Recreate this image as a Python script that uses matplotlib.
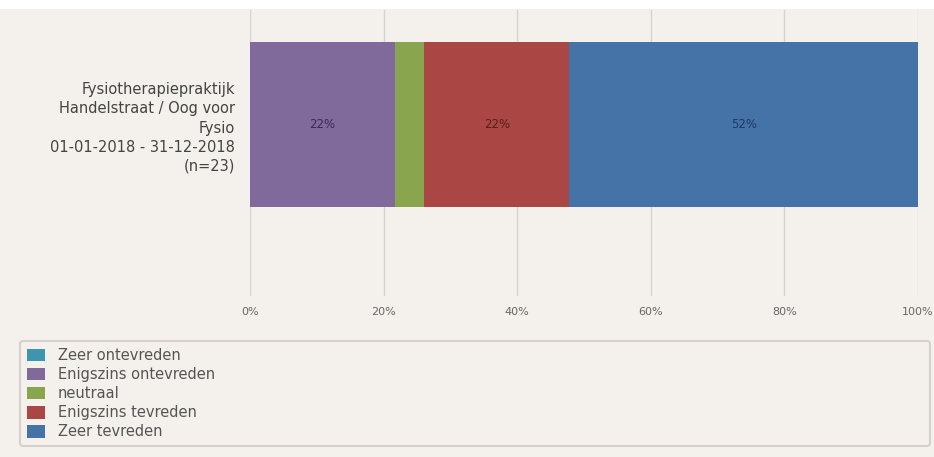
import matplotlib.pyplot as plt
from matplotlib.patches import Rectangle

# Gegevens (aantallen per antwoordcategorie, n=23)
categorie = "Fysiotherapiepraktijk\nHandelstraat / Oog voor\nFysio\n01-01-2018 - 31-12-2018\n(n=23)"
reeksen = ["Zeer ontevreden", "Enigszins ontevreden", "neutraal",
           "Enigszins tevreden", "Zeer tevreden"]
aantallen = [0, 5, 1, 5, 12]
labels = ["", "22%", "", "22%", "52%"]
kleuren = ["#3D96AE", "#80699B", "#89A54E", "#AA4643", "#4572A7"]
label_kleuren = ["#1f4d5a", "#3b2a55", "#3d4d20", "#5a1e1c", "#1f3a66"]
ticks = [0, 20, 40, 60, 80, 100]
tick_labels = ["0%", "20%", "40%", "60%", "80%", "100%"]

bg = "#f4f0ec"
fig = plt.figure(figsize=(9.34, 4.57), dpi=100, facecolor=bg)
# witte strook bovenaan
fig.patches.append(Rectangle((0, 1 - 9 / 457), 1, 9 / 457, transform=fig.transFigure,
                             facecolor="white", edgecolor="none", zorder=0))

ax = fig.add_axes([250 / 934, 1 - 296 / 457, 668 / 934, 286 / 457])
ax.set_facecolor(bg)

totaal = sum(aantallen)
links = 0
for naam, n, lab, kl, lk in zip(reeksen, aantallen, labels, kleuren, label_kleuren):
    pct = n / totaal * 100
    ax.barh(0, pct, left=links, height=0.577, color=kl, label=naam, zorder=3)
    if lab:
        ax.text(links + pct / 2, 0, lab, ha="center", va="center",
                fontsize=8.5, color=lk, zorder=4)
    links += pct

ax.set_xlim(0, 100)
ax.set_ylim(-0.6, 0.4)
ax.set_xticks(ticks)
ax.set_xticklabels(tick_labels, fontsize=8, color="#666666")
ax.set_yticks([0])
ax.set_yticklabels([categorie], fontsize=10.5, color="#444444", ha="right",
                   linespacing=1.35)
ax.tick_params(axis="x", length=0, pad=8)
ax.tick_params(axis="y", length=0, pad=11)
ax.grid(axis="x", color="#d6d3d0", lw=1, zorder=0)
for s in ax.spines.values():
    s.set_visible(False)

handles, lbls = ax.get_legend_handles_labels()
leg = fig.legend(handles, lbls, loc="upper left", mode="expand",
                 bbox_to_anchor=(20 / 934, 1 - 346 / 457, 910 / 934, 0.01),
                 borderaxespad=0, ncol=1, fontsize=10.5, labelspacing=0.28,
                 handlelength=1.25, handleheight=0.95, handletextpad=0.9,
                 borderpad=0.45, frameon=True, fancybox=True,
                 facecolor=bg, edgecolor="#cfcac5")
for t in leg.get_texts():
    t.set_color("#555555")
leg.get_frame().set_linewidth(1.5)

fig.savefig("out.png", dpi=100, facecolor=bg)
